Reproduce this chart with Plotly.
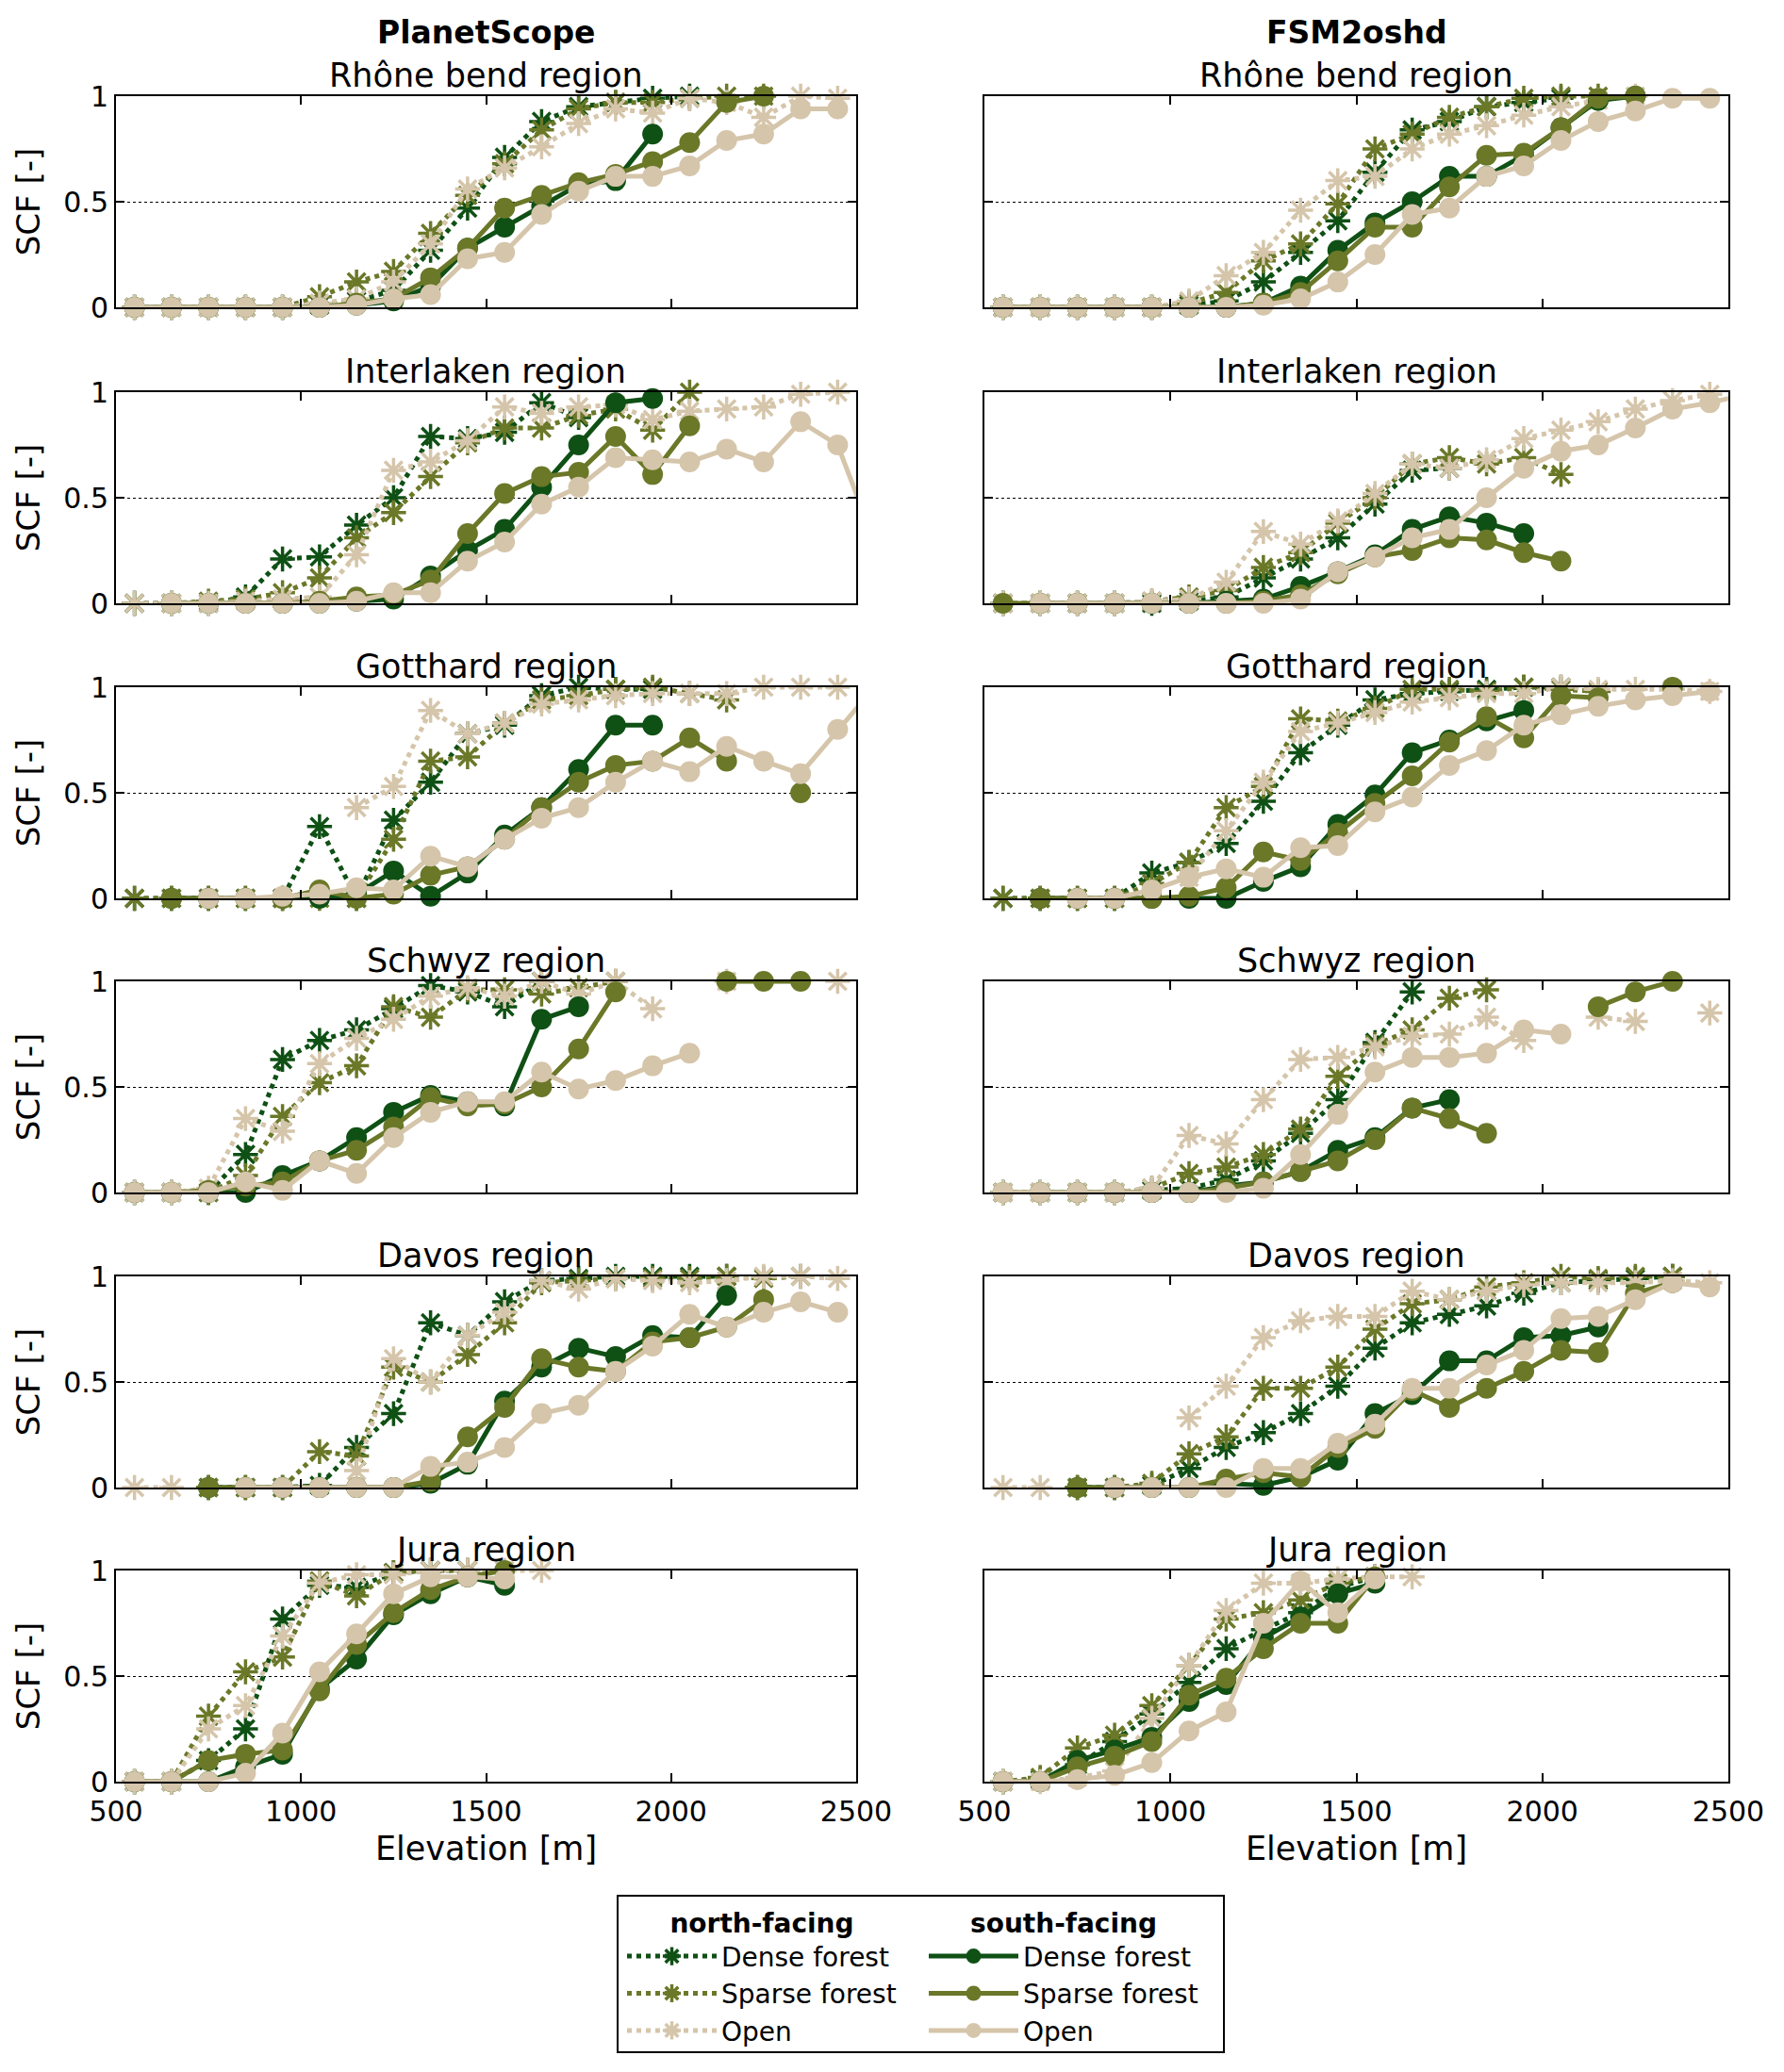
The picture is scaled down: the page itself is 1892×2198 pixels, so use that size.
import plotly.graph_objects as go

# elevation bin centres [m]
ELEVATION = [550, 650, 750, 850, 950, 1050, 1150, 1250, 1350, 1450, 1550,
             1650, 1750, 1850, 1950, 2050, 2150, 2250, 2350, 2450, 2550]

SOURCES = ["PlanetScope", "FSM2oshd"]
REGIONS = ["Rhône bend region", "Interlaken region", "Gotthard region",
           "Schwyz region", "Davos region", "Jura region"]
CLASSES = ["Dense forest", "Sparse forest", "Open"]
ASPECTS = ["north-facing", "south-facing"]

X_TICKS = [500, 1000, 1500, 2000, 2500]
Y_TICKS = [0, 0.5, 1]
Y_TICK_TEXT = ["0", "0.5", "1"]

# SCF per elevation bin, rows = [dense, sparse, open], None = no data
ps_rhone_north = [
    [0, 0, 0, 0, 0, 0.01, 0.03, 0.08, 0.27, 0.47, 0.71, 0.88, 0.95, 0.97, 0.99, 1.0],
    [0, 0, 0, 0, 0, 0.05, 0.12, 0.17, 0.35, 0.53, 0.68, 0.84, 0.94, 0.97, 0.97, 0.99, 1.0, 1.0],
    [0, 0, 0, 0, 0, 0.02, 0.04, 0.12, 0.3, 0.56, 0.66, 0.76, 0.87, 0.94, 0.92, 0.99, 0.97, 0.9, 1.0, 0.99],
]
ps_rhone_south = [
    [0, 0, 0, 0, 0, 0, 0.01, 0.03, 0.1, 0.28, 0.38, 0.48, 0.58, 0.6, 0.82],
    [0, 0, 0, 0, 0, 0, 0.02, 0.04, 0.14, 0.28, 0.47, 0.53, 0.59, 0.63, 0.69, 0.78, 0.97, 1.0],
    [0, 0, 0, 0, 0, 0, 0.01, 0.04, 0.06, 0.23, 0.26, 0.44, 0.55, 0.62, 0.62, 0.67, 0.79, 0.82, 0.94, 0.94],
]
fsm_rhone_north = [
    [0, 0, 0, 0, 0, 0.01, 0.03, 0.12, 0.26, 0.41, 0.64, 0.84, 0.88, 0.95, 0.97, 0.99],
    [0, 0, 0, 0, 0, 0.02, 0.07, 0.22, 0.3, 0.49, 0.75, 0.82, 0.9, 0.95, 0.99, 1.0, 1.0],
    [0, 0, 0, 0, 0, 0.03, 0.15, 0.26, 0.46, 0.6, 0.62, 0.75, 0.82, 0.86, 0.91, 0.95, 0.98, 1.0],
]
fsm_rhone_south = [
    [0, 0, 0, 0, 0, 0, 0, 0.02, 0.1, 0.27, 0.4, 0.5, 0.62, 0.62, 0.72, 0.85, 0.98, 1.0],
    [0, 0, 0, 0, 0, 0, 0, 0.02, 0.07, 0.22, 0.38, 0.38, 0.57, 0.72, 0.73, 0.85, 0.99, 1.0],
    [0, 0, 0, 0, 0, 0, 0, 0.01, 0.04, 0.12, 0.25, 0.44, 0.47, 0.62, 0.67, 0.79, 0.88, 0.93, 0.99, 0.99],
]

ps_interlaken_north = [
    [0, 0, 0, 0.03, 0.21, 0.22, 0.37, 0.5, 0.79, 0.78, 0.81, 0.95, 0.88],
    [0, 0, 0.01, 0.02, 0.05, 0.12, 0.31, 0.43, 0.6, 0.76, 0.83, 0.83, 0.89, 0.92, 0.82, 1.0],
    [0, 0, 0, 0.01, 0.02, 0.03, 0.23, 0.63, 0.67, 0.77, 0.93, 0.9, 0.93, 0.94, 0.87, 0.91, 0.92, 0.93, 0.99, 1.0],
]
ps_interlaken_south = [
    [None, 0, 0, 0, 0, 0, 0.01, 0.02, 0.13, 0.25, 0.35, 0.55, 0.75, 0.95, 0.97],
    [None, 0, 0, 0, 0, 0.01, 0.03, 0.04, 0.11, 0.33, 0.52, 0.6, 0.62, 0.79, 0.61, 0.84],
    [None, 0, 0, 0, 0, 0, 0.01, 0.05, 0.05, 0.2, 0.29, 0.47, 0.55, 0.69, 0.68, 0.67, 0.73, 0.67, 0.86, 0.75, 0.29],
]
fsm_interlaken_north = [
    [0, 0, 0, 0, 0, 0.01, 0.03, 0.12, 0.21, 0.31, 0.47, 0.63, 0.64],
    [0, 0, 0, 0, 0.01, 0.03, 0.06, 0.17, 0.24, 0.38, 0.5, 0.66, 0.69, 0.66, 0.69, 0.61],
    [0, 0, 0, 0, 0.01, 0.02, 0.1, 0.34, 0.28, 0.39, 0.52, 0.66, 0.64, 0.68, 0.78, 0.82, 0.86, 0.92, 0.96, 0.99],
]
fsm_interlaken_south = [
    [None, 0, 0, 0, 0, 0, 0.01, 0.02, 0.08, 0.15, 0.23, 0.35, 0.41, 0.38, 0.33],
    [0, 0, 0, 0, 0, 0, 0, 0.01, 0.04, 0.14, 0.22, 0.25, 0.31, 0.3, 0.24, 0.2],
    [None, 0, 0, 0, 0, 0, 0, 0, 0.02, 0.15, 0.22, 0.31, 0.35, 0.5, 0.64, 0.72, 0.75, 0.83, 0.92, 0.95, 0.99],
]

ps_gotthard_north = [
    [0, 0, 0, 0, 0, 0.34, 0, 0.37, 0.55, 0.78, 0.82, 0.96, 1.0, 0.99, 0.99],
    [0, 0, 0, 0, 0, 0, 0, 0.28, 0.65, 0.67, 0.83, 0.94, 0.96, 0.99, 1.0, 0.97, 0.94],
    [None, None, None, None, None, None, 0.43, 0.53, 0.89, 0.78, 0.83, 0.92, 0.94, 0.96, 0.97, 0.97, 0.97, 1.0, 1.0, 1.0],
]
ps_gotthard_south = [
    [None, 0, 0, 0, 0, 0, 0.02, 0.13, 0.01, 0.12, 0.3, 0.43, 0.61, 0.82, 0.82],
    [None, 0, 0, 0, 0, 0.04, 0, 0.02, 0.11, 0.15, 0.28, 0.43, 0.55, 0.63, 0.65, 0.76, 0.65, None, 0.5],
    [None, None, 0, 0, 0.01, 0.02, 0.05, 0.04, 0.2, 0.15, 0.28, 0.38, 0.43, 0.55, 0.65, 0.6, 0.72, 0.65, 0.59, 0.8, 1.0],
]
fsm_gotthard_north = [
    [0, 0, 0, 0, 0.12, 0.17, 0.26, 0.46, 0.69, 0.82, 0.94, 0.97, 0.98, 0.99, 1.0, 1.0],
    [0, 0, 0, 0, 0.07, 0.17, 0.43, 0.53, 0.85, 0.84, 0.9, 0.99, 0.99, 0.98, 1.0, 0.99, 0.98],
    [None, None, None, None, None, 0.1, 0.32, 0.55, 0.79, 0.83, 0.88, 0.93, 0.95, 0.97, 0.97, 1.0, 0.99, 0.99, 0.99, 0.98],
]
fsm_gotthard_south = [
    [None, 0, 0, 0, 0, 0, 0, 0.08, 0.15, 0.35, 0.49, 0.69, 0.75, 0.84, 0.89],
    [None, 0, 0, 0, 0, 0.01, 0.05, 0.22, 0.18, 0.31, 0.45, 0.58, 0.74, 0.86, 0.76, 0.96, 0.95, None, 1.0],
    [None, None, 0, 0, 0.04, 0.1, 0.14, 0.1, 0.24, 0.25, 0.41, 0.48, 0.63, 0.7, 0.82, 0.87, 0.91, 0.94, 0.96, 0.98],
]

ps_schwyz_north = [
    [0, 0, 0, 0.18, 0.63, 0.72, 0.77, 0.87, 0.98, 0.95, 0.88, 1.0],
    [0, 0, 0, 0.08, 0.36, 0.52, 0.6, 0.88, 0.83, 0.96, 0.96, 0.94, 0.97, 1.0],
    [0, 0, 0.02, 0.35, 0.29, 0.61, 0.73, 0.82, 0.93, 0.97, 0.93, 1.0, 0.94, 1.0, 0.87, None, 1.0, None, None, 1.0],
]
ps_schwyz_south = [
    [0, 0, 0, 0, 0.08, 0.15, 0.26, 0.38, 0.46, 0.43, 0.41, 0.82, 0.88],
    [0, 0, 0.01, 0.03, 0.05, 0.15, 0.2, 0.31, 0.45, 0.41, 0.42, 0.5, 0.68, 0.95, None, None, 1.0, 1.0, 1.0],
    [0, 0, 0, 0.05, 0.01, 0.15, 0.09, 0.26, 0.38, 0.43, 0.43, 0.57, 0.49, 0.53, 0.6, 0.66],
]
fsm_schwyz_north = [
    [0, 0, 0, 0, 0.01, 0.02, 0.06, 0.15, 0.28, 0.44, 0.71, 0.95],
    [0, 0, 0, 0, 0.02, 0.09, 0.12, 0.18, 0.3, 0.55, 0.7, 0.77, 0.92, 0.96],
    [0, 0, 0, 0, 0.02, 0.27, 0.23, 0.44, 0.63, 0.64, 0.69, 0.74, 0.75, 0.83, 0.72, None, 0.83, 0.81, None, 0.85],
]
fsm_schwyz_south = [
    [None, 0, 0, 0, 0, 0, 0.03, 0.05, 0.1, 0.2, 0.26, 0.4, 0.44],
    [0, 0, 0, 0, 0, 0, 0.02, 0.05, 0.1, 0.15, 0.25, 0.4, 0.35, 0.28, None, None, 0.88, 0.95, 1.0],
    [0, 0, 0, 0, 0, 0, 0, 0.02, 0.18, 0.37, 0.57, 0.64, 0.64, 0.66, 0.77, 0.75],
]

ps_davos_north = [
    [None, None, 0, 0, 0, 0.01, 0.19, 0.35, 0.78, 0.72, 0.88, 0.98, 0.99, 1.0, 1.0, 1.0, 1.0],
    [None, None, 0, 0, 0, 0.17, 0.15, 0.57, 0.5, 0.63, 0.78, 0.97, 0.98, 0.99, 0.99, 0.99, 1.0, 0.99, 1.0],
    [0, 0, None, None, None, None, 0.08, 0.61, 0.5, 0.72, 0.83, 0.98, 0.94, 0.99, 0.98, 0.97, 0.98, 1.0, 1.0, 0.99],
]
ps_davos_south = [
    [None, None, 0, 0, 0, 0, 0, 0, 0.02, 0.11, 0.41, 0.57, 0.66, 0.62, 0.72, 0.71, 0.91],
    [None, None, 0, 0, 0, 0, 0, 0, 0.03, 0.24, 0.38, 0.61, 0.57, 0.55, 0.69, 0.71, 0.76, 0.89],
    [None, None, None, 0, 0, 0, 0, 0, 0.1, 0.12, 0.19, 0.35, 0.39, 0.55, 0.67, 0.82, 0.76, 0.83, 0.88, 0.83],
]
fsm_davos_north = [
    [None, None, 0, 0, 0.01, 0.09, 0.19, 0.26, 0.35, 0.48, 0.66, 0.78, 0.82, 0.86, 0.92, 0.97, 0.98, 0.99, 1.0],
    [None, None, 0, 0, 0.02, 0.16, 0.24, 0.47, 0.47, 0.57, 0.75, 0.87, 0.89, 0.95, 0.97, 1.0, 0.99, 1.0, 1.0],
    [0, 0, None, None, None, 0.33, 0.48, 0.71, 0.79, 0.81, 0.81, 0.93, 0.89, 0.93, 0.96, 0.97, 0.97, 0.97, 0.98, 0.97],
]
fsm_davos_south = [
    [None, None, 0, 0, 0, 0, 0.02, 0.01, 0.05, 0.13, 0.35, 0.44, 0.6, 0.6, 0.71, 0.72, 0.76],
    [None, None, 0, 0, 0, 0, 0.04, 0.07, 0.05, 0.19, 0.28, 0.46, 0.38, 0.47, 0.55, 0.65, 0.64, 0.92, 0.97],
    [None, None, None, 0, 0, 0, 0, 0.09, 0.09, 0.21, 0.3, 0.47, 0.47, 0.58, 0.65, 0.8, 0.81, 0.89, 0.97, 0.95],
]

ps_jura_north = [
    [0, 0, 0.1, 0.25, 0.77, 0.93, 0.92, 0.99, 1.0, 1.0],
    [0, 0, 0.31, 0.52, 0.59, 0.95, 0.88, 0.99, 1.0, 1.0],
    [0, 0, 0.25, 0.36, 0.69, 0.94, 0.98, 0.98, 1.0, 1.0, 1.0, 1.0],
]
ps_jura_south = [
    [0, 0, 0, 0.07, 0.13, 0.44, 0.58, 0.79, 0.89, 0.97, 0.93],
    [0, 0, 0.1, 0.13, 0.15, 0.43, 0.65, 0.8, 0.91, 0.97, 1.0],
    [0, 0, 0, 0.04, 0.23, 0.52, 0.7, 0.89, 0.97, 0.97, 0.96],
]
fsm_jura_north = [
    [0, 0.01, 0.08, 0.19, 0.32, 0.47, 0.63, 0.72, 0.8, 0.92, 0.97],
    [0, 0.02, 0.16, 0.22, 0.36, 0.55, 0.77, 0.8, 0.86, 0.94, 0.97],
    [0, 0, 0.02, 0.05, 0.3, 0.55, 0.81, 0.94, 0.94, 0.96, 0.97, 0.97],
]
fsm_jura_south = [
    [0, 0, 0.1, 0.15, 0.21, 0.38, 0.46, 0.68, 0.78, 0.89, 0.94],
    [0, 0, 0.07, 0.12, 0.19, 0.41, 0.49, 0.63, 0.75, 0.75, 0.97],
    [0, 0, 0.01, 0.03, 0.09, 0.24, 0.33, 0.75, 0.95, 0.8, 0.96],
]

PANELS = [
    [(ps_rhone_north, ps_rhone_south), (fsm_rhone_north, fsm_rhone_south)],
    [(ps_interlaken_north, ps_interlaken_south), (fsm_interlaken_north, fsm_interlaken_south)],
    [(ps_gotthard_north, ps_gotthard_south), (fsm_gotthard_north, fsm_gotthard_south)],
    [(ps_schwyz_north, ps_schwyz_south), (fsm_schwyz_north, fsm_schwyz_south)],
    [(ps_davos_north, ps_davos_south), (fsm_davos_north, fsm_davos_south)],
    [(ps_jura_north, ps_jura_south), (fsm_jura_north, fsm_jura_south)],
]

COLORS = ["#0f5015", "#6a7828", "#d5c5aa"]
FONT = "DejaVu Sans"

# the page body adds an 8 px margin, so the figure is drawn 16 px smaller
PAGE_PAD = 8
W, H = 1892 - 2 * PAGE_PAD, 2198 - 2 * PAGE_PAD

# panel geometry in page pixels
COL_X = [(123, 908), (1044, 1833)]
ROW_TOP = [102, 416, 729, 1041, 1354, 1666]
ROW_H = 224


def px_x(p):
    return (p - PAGE_PAD) / W


def px_y(p):
    return 1 - (p - PAGE_PAD) / H


fig = go.Figure()
layout = {}
annotations = []

n = 0
for r, row in enumerate(PANELS):
    for c, (north, south) in enumerate(row):
        n += 1
        sfx = "" if n == 1 else str(n)
        for a, series in enumerate((north, south)):
            for k, scf in enumerate(series):
                y = scf + [None] * (len(ELEVATION) - len(scf))
                if a == 0:
                    marker = dict(symbol="asterisk-open", color=COLORS[k], opacity=1,
                                  line=dict(color=COLORS[k], width=3.5))
                    line = dict(color=COLORS[k], width=5, dash="dot")
                else:
                    marker = dict(symbol="circle", color=COLORS[k], opacity=1,
                                  line=dict(width=0))
                    line = dict(color=COLORS[k], width=5)
                # hide markers that fall outside the axis range
                marker["size"] = [22 if e <= 2500 else 0 for e in ELEVATION]
                fig.add_trace(go.Scatter(
                    x=ELEVATION, y=y, xaxis="x" + sfx, yaxis="y" + sfx,
                    mode="lines+markers", line=line, marker=marker,
                    name=CLASSES[k], cliponaxis=False,
                    showlegend=(n == 1),
                    legend="legend" if a == 0 else "legend2",
                ))

        x0, x1 = COL_X[c]
        top = ROW_TOP[r]
        common = dict(showline=True, linecolor="black", linewidth=2, mirror="ticks",
                      ticks="inside", ticklen=9, tickwidth=2, tickcolor="black",
                      zeroline=False, automargin=False,
                      tickfont=dict(size=30, family=FONT, color="black"))
        xa = dict(domain=[px_x(x0), px_x(x1)], anchor="y" + sfx, range=[500, 2500],
                  tickvals=X_TICKS, showticklabels=(r == 5), showgrid=False,
                  ticklabelstandoff=4, **common)
        if r == 5:
            xa["title"] = dict(text="Elevation [m]", font=dict(size=35, family=FONT), standoff=10)
        ya = dict(domain=[px_y(top + ROW_H), px_y(top)], anchor="x" + sfx, range=[0, 1],
                  tickvals=Y_TICKS, ticktext=Y_TICK_TEXT, showticklabels=(c == 0),
                  showgrid=True, gridcolor="black", gridwidth=1, griddash="dot", **common)
        if c == 0:
            ya["title"] = dict(text="SCF [-]", font=dict(size=34, family=FONT), standoff=14)
        layout["xaxis" + sfx] = xa
        layout["yaxis" + sfx] = ya

        annotations.append(dict(
            text=REGIONS[r], x=px_x((x0 + x1) / 2), y=px_y(top), xref="paper", yref="paper",
            xanchor="center", yanchor="bottom", yshift=0, showarrow=False,
            font=dict(size=35, family=FONT, color="black")))

for c, src in enumerate(SOURCES):
    x0, x1 = COL_X[c]
    annotations.append(dict(
        text="<b>" + src + "</b>", x=px_x((x0 + x1) / 2), y=px_y(35), xref="paper", yref="paper",
        xanchor="center", yanchor="middle", showarrow=False,
        font=dict(size=33, family=FONT, color="black")))

legend_style = dict(font=dict(size=28, family=FONT, color="black"), bgcolor="rgba(0,0,0,0)",
                    xanchor="left", yanchor="top", y=px_y(2014), itemwidth=95,
                    tracegroupgap=0)

fig.update_layout(
    template="none",
    width=W, height=H,
    margin=dict(l=0, r=0, t=0, b=0, autoexpand=False),
    plot_bgcolor="white", paper_bgcolor="white",
    font=dict(family=FONT, color="black"),
    annotations=annotations,
    legend=dict(x=px_x(660), title=dict(text="<b>" + ASPECTS[0] + "</b>", side="top center",
                                       font=dict(size=28, family=FONT)), **legend_style),
    legend2=dict(x=px_x(980), title=dict(text="<b>" + ASPECTS[1] + "</b>", side="top center",
                                        font=dict(size=28, family=FONT)), **legend_style),
    shapes=[dict(type="rect", xref="paper", yref="paper",
                 x0=px_x(655), x1=px_x(1298), y0=px_y(2177), y1=px_y(2011),
                 line=dict(color="black", width=2))],
    **layout,
)

fig.write_html("out.html")
